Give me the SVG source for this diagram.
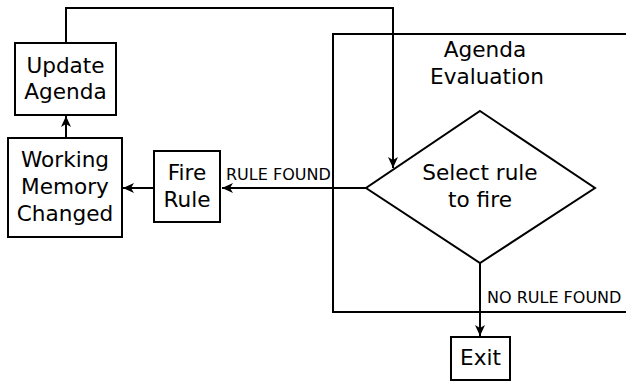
<svg xmlns="http://www.w3.org/2000/svg" width="626" height="382" viewBox="0 0 626 382">
<style>
.box{fill:#fff;stroke:#000;stroke-width:2}
.ln{fill:none;stroke:#000;stroke-width:2}
.t{font-family:"DejaVu Sans",sans-serif;font-size:21.6px;fill:#000;text-anchor:middle}
.s{font-family:"DejaVu Sans",sans-serif;font-size:16px;fill:#000}
</style>
<defs>
<marker id="ah" markerUnits="userSpaceOnUse" markerWidth="12" markerHeight="10" viewBox="0 0 12 10" refX="11" refY="5" orient="auto">
<path d="M0,0 L11,5 L0,10 L3,5 z" fill="#000"/>
</marker>
</defs>
<g id="container">
<path class="ln" d="M627,34 H333 V312 H627"/>
<text class="t" x="485" y="57">Agenda</text>
<text class="t" x="487" y="84">Evaluation</text>
</g>
<g id="connectors">
<path class="ln" d="M66,43 V8 H393 V168" marker-end="url(#ah)"/>
<path class="ln" d="M366,188 H222" marker-end="url(#ah)"/>
<path class="ln" d="M154,188 H123" marker-end="url(#ah)"/>
<path class="ln" d="M66,138 V116" marker-end="url(#ah)"/>
<path class="ln" d="M480,263 V336" marker-end="url(#ah)"/>
<text class="s" x="226" y="180">RULE FOUND</text>
<text class="s" x="487" y="303">NO RULE FOUND</text>
</g>
<g id="update">
<rect class="box" x="15" y="43" width="101" height="72"/>
<text class="t" x="65.5" y="73">Update</text>
<text class="t" x="65.5" y="99">Agenda</text>
</g>
<g id="wm">
<rect class="box" x="8" y="138" width="114" height="99"/>
<text class="t" x="65" y="167">Working</text>
<text class="t" x="65" y="194">Memory</text>
<text class="t" x="65" y="221">Changed</text>
</g>
<g id="fire">
<rect class="box" x="154" y="151" width="66" height="71"/>
<text class="t" x="187" y="180">Fire</text>
<text class="t" x="187" y="207">Rule</text>
</g>
<g id="select">
<path class="box" d="M480,111 L595,188 L480,263 L366,188 Z"/>
<text class="t" x="480" y="180">Select rule</text>
<text class="t" x="480" y="207">to fire</text>
</g>
<g id="exit">
<rect class="box" x="451" y="337" width="59" height="43"/>
<text class="t" x="480.5" y="365">Exit</text>
</g>
</svg>
